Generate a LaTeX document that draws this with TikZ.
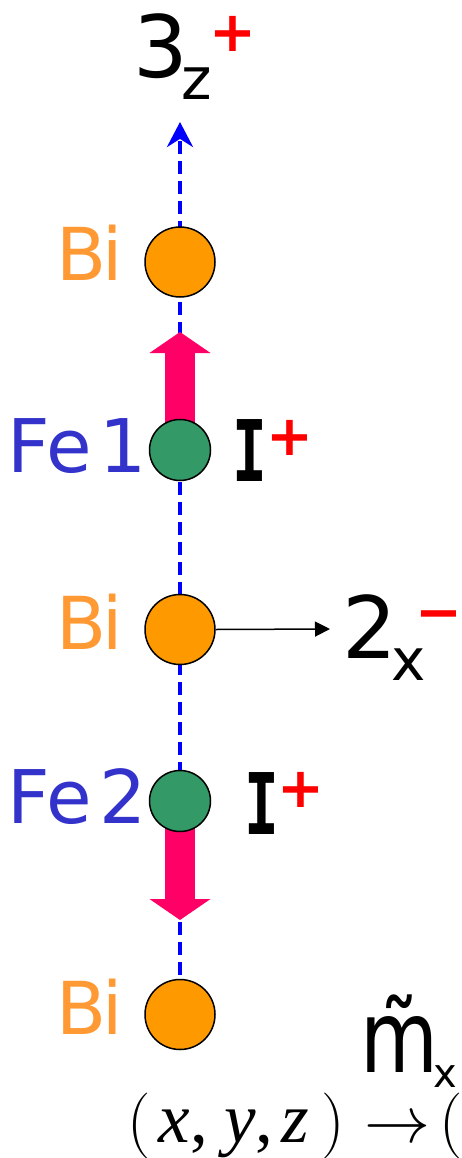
\RequirePackage{fix-cm}
\documentclass[tikz,border=0pt]{standalone}
\usepackage{graphicx}
\usepackage{fontspec}
\setmainfont{DejaVu Sans}
\newfontfamily\ifont{DejaVu Sans Mono}
\newfontfamily\tnr{Liberation Serif}
\usetikzlibrary{arrows.meta}
\definecolor{biorange}{HTML}{FF9900}
\definecolor{bitext}{HTML}{FF9933}
\definecolor{fegreen}{HTML}{339966}
\definecolor{fetext}{HTML}{3333CC}
\definecolor{spin}{HTML}{FF0066}
\definecolor{axisblue}{HTML}{0000FF}
\definecolor{signred}{HTML}{FF0000}
\newcommand{\fsz}[1]{\fontsize{#1}{#1}\selectfont}
\newcommand{\placeat}[2]{\makebox[0pt][l]{\hspace*{#1}#2}}
\tikzset{
  biatom/.style={circle, draw=black, line width=1.5pt, fill=biorange, minimum size=70pt, inner sep=0pt},
  featom/.style={circle, draw=black, line width=1.5pt, fill=fegreen, minimum size=61pt, inner sep=0pt},
  txt/.style={inner sep=0pt, outer sep=0pt},
  bilbl/.style={txt, text=bitext, anchor=base west, font=\fsz{73}},
  felbl/.style={txt, text=fetext, anchor=base west, font=\fsz{74}},
  sign/.style={txt, text=signred, anchor=base, font=\fsz{56}\bfseries},
  axisline/.style={draw=axisblue, line width=4pt, dash pattern=on 13pt off 7pt, -{Stealth[length=25pt,width=26pt]}},
  spinarrow/.style={draw=spin, line width=30pt, -{Triangle[length=21pt,width=60pt]}},
  thinarrow/.style={draw=black, line width=1.5pt, -{Triangle[length=15pt,width=15pt]}},
}
\begin{document}
\begin{tikzpicture}[x=1pt,y=-1pt]
\useasboundingbox (0,0) rectangle (461,1158);
\clip (0,0) rectangle (461,1158);
% coordinates
\coordinate (axtop) at (180,122);
\coordinate (up1) at (180,332);
\coordinate (dn2) at (180,920);
\coordinate (tx) at (330,629);
% axis
\path (180,1014.5) coordinate (axbot);
\draw[axisline] (axbot) -- (axtop);
% spin arrows
\draw[spinarrow] (180,450) coordinate (fe1c) -- (up1);
\draw[spinarrow] (180,801) coordinate (fe2c) -- (dn2);
% atoms
\node[biatom] (bi1) at (180,262) {};
\node[featom] (fe1) at (fe1c) {};
\node[biatom] (bi2) at (180,629.5) {};
\node[featom] (fe2) at (fe2c) {};
\node[biatom] (bi3) at (axbot) {};
% 2x arrow
\draw[thinarrow] (bi2.east) -- (tx);
% labels
\node[bilbl] (lbi1) at (56,280) {B\kern-4pt i};
\node[bilbl] (lbi2) at (56,649) {B\kern-4pt i};
\node[bilbl] (lbi3) at (56,1034) {B\kern-4pt i};
\node[felbl] (lfe1) at (8,472) {Fe\kern8pt 1};
\node[felbl] (lfe2) at (8,823) {Fe\kern8pt 2};
% I+ labels
\node[txt, font=\fsz{85}\ifont\bfseries] (i1) at (250,451) {\scalebox{0.68}[1]{I}};
\node[sign] (p1) at (289.5,455) {+};
\node[txt, font=\fsz{85}\ifont\bfseries] (i2) at (262,803.5) {\scalebox{0.68}[1]{I}};
\node[sign] (p2) at (300.5,807) {+};
% 3z+
\node[txt, anchor=base west, font=\fsz{86}] (three) at (133,78) {3\kern-6pt\raisebox{-22pt}{\fsz{58}z}};
\node[sign] (p3) at (233,52) {+};
% 2x-
\node[txt, anchor=base west, font=\fsz{86}] (two) at (342.5,658) {2\kern-6pt\raisebox{-22pt}{\fsz{58}x}};
\node[sign] (m2) at (439,631) {−};
% m~x
\node[txt, anchor=base west, font=\fsz{100}] (mt) at (360,1072) {\scalebox{0.8}[1]{m̃}\kern-4pt\raisebox{-15pt}{\fsz{40}x}};
% mapping
\node[txt, anchor=base west, font=\fsz{66}] (map) at (0,1142)
  {\placeat{127pt}{$($}%
   \placeat{158pt}{\tnr\itshape\fsz{71}x}%
   \placeat{190pt}{\tnr\fsz{71},}%
   \placeat{224pt}{\tnr\itshape\fsz{71}y}%
   \placeat{255pt}{\tnr\fsz{71},}%
   \placeat{281pt}{\tnr\itshape\fsz{71}z}%
   \placeat{321pt}{$)$}%
   \placeat{364pt}{$\to$}%
   \placeat{439pt}{$($}\hspace*{461pt}};
\end{tikzpicture}
\end{document}
